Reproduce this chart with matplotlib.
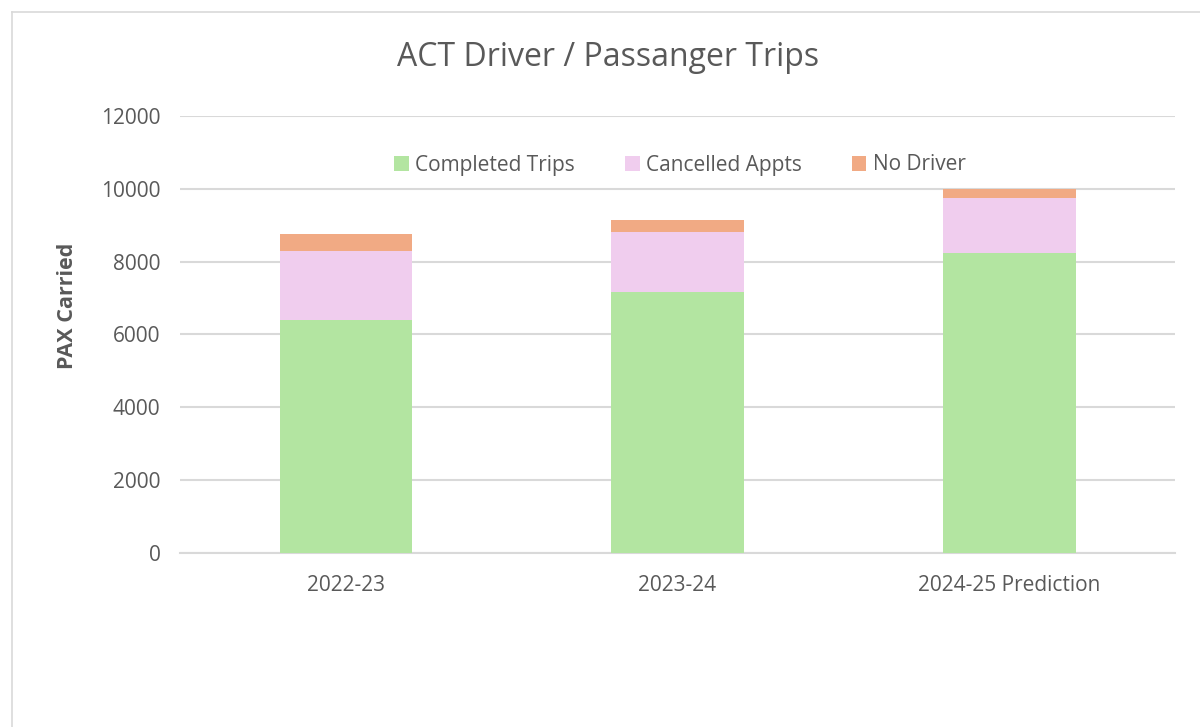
import matplotlib
matplotlib.use("Agg")
import matplotlib.pyplot as plt
from matplotlib.lines import Line2D
import numpy as np

categories = ["2022-23", "2023-24", "2024-25 Prediction"]
completed = [6400, 7165, 8240]
cancelled = [1900, 1660, 1495]
no_driver = [470, 330, 265]
series_names = ["Completed Trips", "Cancelled Appts", "No Driver"]
colors = ["#B3E5A1", "#F0CDEE", "#F1AA84"]
yticks = [0, 2000, 4000, 6000, 8000, 10000, 12000]

plt.rcParams['font.family'] = ['Open Sans', 'DejaVu Sans']
W, H = 1200, 727
fig = plt.figure(figsize=(W / 100, H / 100), dpi=100)
fig.patch.set_facecolor("white")

# chart border (left and top visible)
fig.add_artist(Line2D([12 / W, 12 / W], [0, 1 - 12 / H], transform=fig.transFigure,
                      color="#D9D9D9", lw=1.2))
fig.add_artist(Line2D([12 / W, 1], [1 - 12 / H, 1 - 12 / H], transform=fig.transFigure,
                      color="#D9D9D9", lw=1.2))

left, right, bottom, top = 180, 1175, 552.7, 116
ax = fig.add_axes([left / W, 1 - bottom / H, (right - left) / W, (bottom - top) / H])

x = np.arange(len(categories))
w = 0.4
base = np.zeros(len(categories))
handles = []
for vals, c, name in zip([completed, cancelled, no_driver], colors, series_names):
    b = ax.bar(x, vals, w, bottom=base, color=c, label=name, zorder=3)
    base = base + np.array(vals)
    handles.append(b)

ax.set_ylim(0, 12000)
ax.set_xlim(-0.5, 2.5)
ax.set_yticks(yticks)
ax.set_yticklabels([str(t) for t in yticks])
ax.set_xticks(x)
ax.set_xticklabels(categories)
ax.yaxis.grid(True, color="#D9D9D9", lw=1.5, zorder=0)
ax.set_axisbelow(True)
for s in ["top", "right", "left"]:
    ax.spines[s].set_visible(False)
ax.spines["bottom"].set_color("#D9D9D9")
ax.spines["bottom"].set_linewidth(1.5)
ax.tick_params(axis="both", length=0, colors="#595959", labelsize=15)
ax.tick_params(axis="y", pad=14)
ax.tick_params(axis="x", pad=16)

ax.set_ylabel("PAX Carried", fontsize=15.5, fontweight="bold", color="#595959")
ax.yaxis.set_label_coords((78 - left) / (right - left), (bottom - 306) / (bottom - top))

fig.text(608 / W, 1 - 58 / H, "ACT Driver / Passanger Trips", ha="center", va="center",
         fontsize=23, color="#595959")

leg = fig.legend(handles=handles, labels=series_names, loc="center",
                 bbox_to_anchor=(680 / W, 1 - 165 / H), ncol=3, frameon=False,
                 fontsize=15, handlelength=0.7, handleheight=0.7, handletextpad=0.3,
                 columnspacing=2.4, labelcolor="#595959")

fig.savefig("out.png", dpi=100)
